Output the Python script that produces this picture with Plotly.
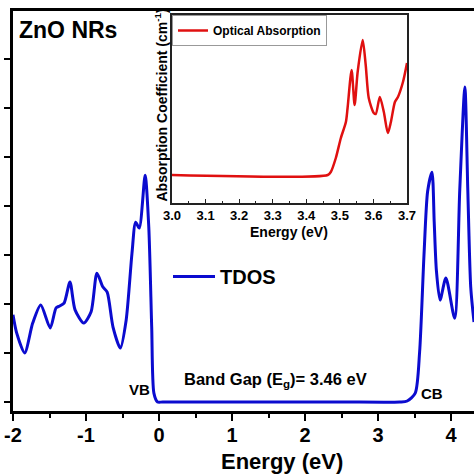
import plotly.graph_objects as go

# ---------------- data ----------------
tdos_energy = [-2.0, -1.95, -1.84, -1.73, -1.62, -1.49, -1.41, -1.36, -1.30, -1.22, -1.15,
               -1.03, -0.93, -0.85, -0.77, -0.71, -0.63, -0.53, -0.45, -0.37, -0.32, -0.27,
               -0.19, -0.14, -0.10, -0.07, -0.02, 0.05, 0.5, 1.5, 2.5, 3.30, 3.40, 3.51, 3.57,
               3.63, 3.68, 3.74, 3.77, 3.80, 3.85, 3.93, 4.05, 4.12, 4.19, 4.23, 4.27, 4.315]
tdos_values = [1.78, 1.41, 1.00, 1.61, 1.98, 1.51, 1.92, 1.96, 2.02, 2.45, 1.88,
               1.61, 1.84, 2.63, 2.35, 2.24, 1.53, 1.10, 1.67, 3.04, 3.67, 3.55,
               4.63, 3.57, 1.53, 0.18, 0.00, 0.00, 0.00, 0.00, 0.00, 0.00, 0.02, 0.18, 1.02,
               3.00, 4.30, 4.69, 3.67, 2.68, 2.08, 2.53, 1.71, 4.33, 6.43, 4.33, 2.35, 1.63]

abs_energy = [3.00, 3.464, 3.473, 3.488, 3.503, 3.518, 3.523, 3.535, 3.544, 3.553, 3.568,
              3.577, 3.586, 3.601, 3.607, 3.619, 3.631, 3.643, 3.652, 3.664, 3.673, 3.688, 3.700]
abs_values = [2.8, 2.8, 3.1, 4.5, 6.5, 8.1, 9.5, 13.3, 9.8, 13.1, 16.3,
              13.8, 10.5, 9.0, 8.9, 10.6, 9.1, 7.0, 8.1, 10.1, 10.6, 12.1, 14.0]

main_xticks = [-2, -1, 0, 1, 2, 3, 4]
inset_xticks = [3.0, 3.1, 3.2, 3.3, 3.4, 3.5, 3.6, 3.7]
inset_xticklabels = ["3.0", "3.1", "3.2", "3.3", "3.4", "3.5", "3.6", "3.7"]

# ---------------- layout helpers ----------------
W, H = 474, 474
L, R, T, B = 13, 0, 11, 63
PW, PH = W - L - R, H - T - B

def px_x(p):
    return (p - L) / PW

def px_y(p):
    return (H - B - p) / PH

FONT = "Liberation Sans, Arial, sans-serif"
BLUE = "#0b0bcf"
RED = "#e01010"

fig = go.Figure()
fig.add_trace(go.Scatter(
    x=tdos_energy, y=tdos_values, mode="lines", name="TDOS",
    line=dict(color=BLUE, width=3, shape="spline", smoothing=0.7),
    xaxis="x", yaxis="y", legend="legend",
))
fig.add_trace(go.Scatter(
    x=abs_energy, y=abs_values, mode="lines", name="Optical Absorption",
    line=dict(color=RED, width=2.5, shape="spline", smoothing=0.7),
    xaxis="x2", yaxis="y2", legend="legend2",
))

fig.update_layout(
    width=W, height=H,
    margin=dict(l=L, r=R, t=T, b=B, pad=0, autoexpand=False),
    paper_bgcolor="white", plot_bgcolor="white",
    font=dict(family=FONT, color="black"),
    xaxis=dict(
        domain=[0, 1], range=[-2, 4.315], showgrid=False, zeroline=False,
        showline=True, linecolor="black", linewidth=3, mirror=True, automargin=False,
        ticks="outside", ticklen=7, tickwidth=2, tickcolor="black",
        tickvals=main_xticks, ticktext=[str(v) for v in main_xticks],
        tickfont=dict(size=20, weight="bold", family=FONT), ticklabelstandoff=-3,
        minor=dict(ticks="outside", ticklen=4, tickwidth=2, dtick=0.5, tickcolor="black"),
    ),
    yaxis=dict(
        domain=[0, 1], range=[-0.184, 7.98], showgrid=False, zeroline=False,
        showline=True, linecolor="black", linewidth=3, mirror=False, automargin=False,
        ticks="outside", ticklen=6, tickwidth=2, tickcolor="black",
        tickvals=[0, 1, 2, 3, 4, 5, 6, 7], showticklabels=False,
    ),
    xaxis2=dict(
        domain=[px_x(172), px_x(407)], range=[3.0, 3.7], anchor="y2", automargin=False,
        showgrid=False, zeroline=False, showline=True, linecolor="#222", linewidth=1.5,
        mirror=True, ticks="inside", ticklen=4, tickwidth=1.2, tickcolor="#222",
        tickvals=inset_xticks, ticktext=inset_xticklabels,
        tickfont=dict(size=13, weight="bold", family=FONT),
        minor=dict(ticks="inside", ticklen=2, tickwidth=1, dtick=0.05, tickcolor="#222"),
    ),
    yaxis2=dict(
        domain=[px_y(203), px_y(15)], range=[0, 18.8], anchor="x2", automargin=False,
        showgrid=False, zeroline=False, showline=True, linecolor="#222", linewidth=1.5,
        mirror=True, ticks="", showticklabels=False,
    ),
    legend=dict(
        x=px_x(168), y=px_y(257), xanchor="left", yanchor="top",
        bgcolor="rgba(0,0,0,0)", borderwidth=0,
        font=dict(size=20, weight="bold", family=FONT), itemwidth=42,
    ),
    legend2=dict(
        x=px_x(172), y=px_y(15), xanchor="left", yanchor="top",
        bgcolor="white", bordercolor="#999", borderwidth=1,
        font=dict(size=12, weight="bold", family=FONT), itemwidth=30,
    ),
    showlegend=True,
)

ann = [
    dict(text="ZnO NRs", x=px_x(17), y=px_y(30), xanchor="left", yanchor="middle",
         font=dict(size=23, weight="bold")),
    dict(text="Band Gap (E<sub>g</sub>)= 3.46 eV", x=px_x(182), y=px_y(380),
         xanchor="left", yanchor="middle", font=dict(size=16.5, weight="bold")),
    dict(text="VB", x=px_x(127), y=px_y(389), xanchor="left", yanchor="middle",
         font=dict(size=15, weight="bold")),
    dict(text="CB", x=px_x(419), y=px_y(393), xanchor="left", yanchor="middle",
         font=dict(size=15, weight="bold")),
    dict(text="Energy (eV)", x=px_x(282), y=px_y(461), xanchor="center", yanchor="middle",
         font=dict(size=22, weight="bold")),
    dict(text="Energy (eV)", x=px_x(289), y=px_y(232), xanchor="center", yanchor="middle",
         font=dict(size=14, weight="bold")),
    dict(text="Absorption Coefficient (cm<sup>-1</sup>)", x=px_x(161), y=px_y(204),
         xanchor="center", yanchor="bottom", textangle=-90,
         font=dict(size=14, weight="bold")),
]
for a in ann:
    a.update(xref="paper", yref="paper", showarrow=False)
    a["font"]["family"] = FONT
    a["font"]["color"] = "black"
fig.update_layout(annotations=ann)

fig.write_html("out.html", config={"displayModeBar": False},
               post_script="document.body.style.margin='0';document.body.style.overflow='hidden';")
